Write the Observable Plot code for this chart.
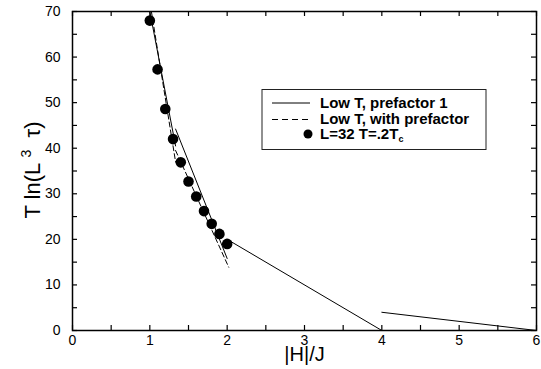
<!DOCTYPE html>
<html>
<head>
<meta charset="utf-8">
<script src="https://cdn.jsdelivr.net/npm/d3@7"></script>
<script src="https://cdn.jsdelivr.net/npm/@observablehq/plot@0.6"></script>
<style>
  body { margin: 0; background: #fff; }
  #chart { position: relative; width: 541px; height: 369px; }
</style>
</head>
<body>
<div id="chart"></div>
<script>
// Simulation points: L=32, T=.2Tc
const simH = [1.0, 1.1, 1.2, 1.3, 1.4, 1.5, 1.6, 1.7, 1.8, 1.9, 2.0];
const simY = [68.0, 57.3, 48.6, 42.0, 36.9, 32.7, 29.4, 26.2, 23.4, 21.2, 19.0];

// Low T, prefactor 1 (piecewise segments)
const pref1Seg = ["a", "a", "b", "b", "c", "c", "d", "d"];
const pref1H   = [1.0, 1.333, 1.333, 2.0, 2.0, 4.0, 4.0, 6.0];
const pref1Y   = [70.0, 40.5, 44.2, 15.8, 20.0, 0.0, 4.0, 0.0];

// Low T, with prefactor (piecewise segments)
const prefSeg = ["a", "a", "b", "b"];
const prefH   = [1.02, 1.333, 1.333, 2.02];
const prefY   = [70.0, 37.0, 39.5, 13.9];

// Axis ticks
const xMinorTicks = d3.range(0, 6.001, 0.5);
const xLabelTicks = [0, 1, 2, 3, 4, 5, 6];
const yMinorTicks = d3.range(0, 70.001, 5);
const yLabelTicks = [0, 10, 20, 30, 40, 50, 60, 70];

const simRows = simH.map((h, i) => ({h, y: simY[i]}));
const pref1Rows = pref1H.map((h, i) => ({h, y: pref1Y[i], seg: pref1Seg[i]}));
const prefRows = prefH.map((h, i) => ({h, y: prefY[i], seg: prefSeg[i]}));

const font = "'Liberation Sans', Arial, Helvetica, sans-serif";
const intFmt = d3.format("d");

const W = 541, H = 369;
const mL = 72, mR = 5, mT = 11, mB = 39;
const frameW = W - mL - mR, frameH = H - mT - mB;
const tick = 5;

const plot = Plot.plot({
  width: W,
  height: H,
  marginLeft: mL,
  marginRight: mR,
  marginTop: mT,
  marginBottom: mB,
  x: {domain: [0, 6]},
  y: {domain: [0, 70]},
  style: {fontFamily: font, fontSize: "14px", color: "#000", background: "#fff"},
  marks: [
    Plot.line(pref1Rows, {x: "h", y: "y", z: "seg", stroke: "#000", strokeWidth: 1, clip: true}),
    Plot.line(prefRows, {x: "h", y: "y", z: "seg", stroke: "#000", strokeWidth: 1, strokeDasharray: "5,3", clip: true}),
    Plot.dot(simRows, {x: "h", y: "y", r: 5.3, fill: "#000", stroke: null}),
    // inward ticks on all four sides
    Plot.tickX(xMinorTicks, {x: d => d, insetTop: frameH - tick, stroke: "#000", strokeWidth: 1.2}),
    Plot.tickX(xMinorTicks, {x: d => d, insetBottom: frameH - tick, stroke: "#000", strokeWidth: 1.2}),
    Plot.tickY(yMinorTicks, {y: d => d, insetRight: frameW - tick, stroke: "#000", strokeWidth: 1.2}),
    Plot.tickY(yMinorTicks, {y: d => d, insetLeft: frameW - tick, stroke: "#000", strokeWidth: 1.2}),
    Plot.frame({stroke: "#000", strokeWidth: 1.5}),
    Plot.axisX({anchor: "bottom", ticks: xLabelTicks, tickSize: 0, tickPadding: 5, tickFormat: intFmt, label: null, fontSize: 14}),
    Plot.axisY({anchor: "left", ticks: yLabelTicks, tickSize: 0, tickPadding: 12, tickFormat: intFmt, label: null, fontSize: 14}),
    Plot.text(["|H|/J"], {frameAnchor: "bottom", dy: 30, fontSize: 20, fill: "#000"})
  ]
});

document.getElementById("chart").appendChild(plot);

const svg = d3.select(plot);

// Y axis title with superscript
const yt = svg.append("text")
  .attr("transform", "translate(40,170) rotate(-90)")
  .attr("text-anchor", "middle")
  .attr("font-family", font)
  .attr("font-size", 22)
  .attr("fill", "#000");
yt.append("tspan").text("T ln(L ");
yt.append("tspan").attr("dy", -9).attr("font-size", 14).text("3");
yt.append("tspan").attr("dy", 9).text("  τ)");

// Legend
const lg = svg.append("g")
  .attr("font-family", font).attr("font-weight", "bold").attr("font-size", 15)
  .attr("fill", "#000").attr("text-anchor", "start");
lg.append("rect").attr("x", 262).attr("y", 89.5).attr("width", 224).attr("height", 60)
  .attr("fill", "#fff").attr("stroke", "#222").attr("stroke-width", 1);
lg.append("line").attr("x1", 272).attr("x2", 310).attr("y1", 103).attr("y2", 103)
  .attr("stroke", "#000").attr("stroke-width", 1);
lg.append("line").attr("x1", 272).attr("x2", 310).attr("y1", 119.5).attr("y2", 119.5)
  .attr("stroke", "#000").attr("stroke-width", 1).attr("stroke-dasharray", "6,4");
lg.append("circle").attr("cx", 308).attr("cy", 134).attr("r", 4.5).attr("fill", "#000");
svg.append("defs").append("clipPath").attr("id", "legclip")
  .append("rect").attr("x", 262).attr("y", 89.5).attr("width", 223.5).attr("height", 60);
const lt = lg.append("g").attr("clip-path", "url(#legclip)");
lt.append("text").attr("x", 320).attr("y", 107.5).attr("text-anchor", "start").text("Low T, prefactor 1");
lt.append("text").attr("x", 320).attr("y", 123.5).attr("text-anchor", "start").text("Low T, with prefactor");
const t3 = lt.append("text").attr("x", 320).attr("y", 139).attr("text-anchor", "start");
t3.append("tspan").text("L=32 T=.2T");
t3.append("tspan").attr("dy", 3).attr("font-size", 9).text("c");
</script>
</body>
</html>
